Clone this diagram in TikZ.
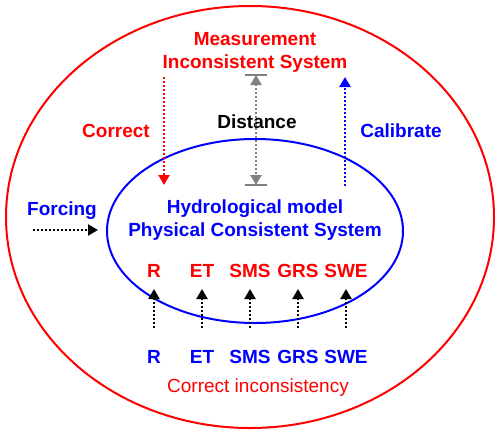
\documentclass[tikz,border=0pt]{standalone}
\usepackage{fontspec}
\setmainfont{Liberation Sans}
\usetikzlibrary{arrows.meta}
\definecolor{myred}{RGB}{255,0,0}
\definecolor{myblue}{RGB}{0,0,255}
\definecolor{mygray}{RGB}{128,128,128}
\tikzset{
  lbl/.style={anchor=base, inner sep=0pt, font=\fontsize{19}{23}\selectfont\bfseries},
  dotarrow/.style={line width=2.2pt, dash pattern=on 2pt off 2pt, -{Triangle[length=10pt,width=11pt]}},
}
\begin{document}
\begin{tikzpicture}[x=1pt,y=-1pt]
\useasboundingbox (0,0) rectangle (500,434);
% ellipses
\draw[myred, line width=2pt] (250,217) ellipse [x radius=244pt, y radius=211pt];
\draw[myblue, line width=2pt] (255,231) ellipse [x radius=148pt, y radius=92pt];
% texts
\node[lbl, text=myred] (meas) at (255,45) {Measurement};
\node[lbl, text=myred] (incons) at (255,68) {Inconsistent System};
\node[lbl, text=black] (dist) at (257,128) {Distance};
\node[lbl, text=myred] (corr) at (116,137) {Correct};
\node[lbl, text=myblue] (calib) at (401,137) {Calibrate};
\node[lbl, text=myblue] (forc) at (62,215) {Forcing};
\node[lbl, text=myblue] (hydro) at (255,213) {Hydrological model};
\node[lbl, text=myblue] (phys) at (255,236) {Physical Consistent System};
\node[lbl, text=myred, font=\fontsize{19}{23}\selectfont] (ci) at (258,392) {Correct inconsistency};
% coordinates for arrows
\coordinate (rs) at (164,77); \coordinate (re) at (164,185);
\coordinate (bs) at (345,186); \coordinate (be) at (345,77);
\coordinate (fs) at (33,230); \coordinate (fe) at (98,230);
\coordinate (dt) at (256,75); \coordinate (db) at (256,185);
\draw[dotarrow, myred] (rs) -- (re);
\draw[dotarrow, myblue] (bs) -- (be);
\draw[dotarrow, black] (fs) -- (fe);
% distance
\draw[mygray, line width=2.2pt, dash pattern=on 2pt off 2pt, {Triangle[length=10pt,width=11pt]}-{Triangle[length=10pt,width=11pt]}] (dt) -- (db);
\draw[mygray, line width=2pt] ([xshift=-11pt]dt) -- ([xshift=11pt]dt);
\draw[mygray, line width=2pt] ([xshift=-11pt]db) -- ([xshift=11pt]db);
% variables
\foreach \n/\t/\x in {r/R/154, et/ET/202, sms/SMS/250, grs/GRS/298, swe/SWE/346}{
  \node[lbl, text=myred] (top\n) at (\x,277) {\t};
  \node[lbl, text=myblue] (bot\n) at (\x,363) {\t};
  \coordinate (as\n) at (\x,328);
  \coordinate (ae\n) at (\x,289);
  \draw[dotarrow, black] (as\n) -- (ae\n);
}
\end{tikzpicture}
\end{document}
